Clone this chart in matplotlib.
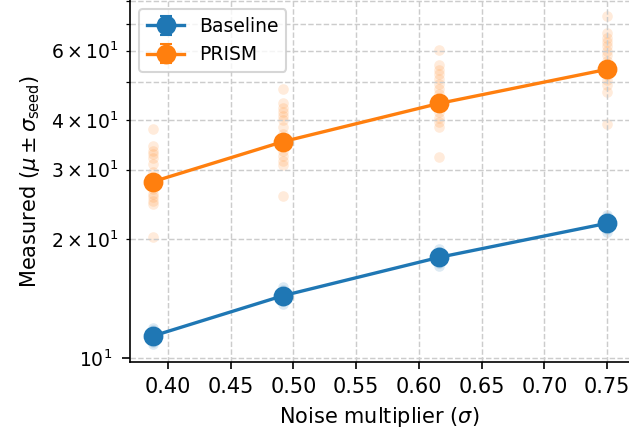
import numpy as np
import matplotlib
matplotlib.use("Agg")
import matplotlib.pyplot as plt
from matplotlib.ticker import MultipleLocator

## Noise multipliers and per-method results
sigmas = [0.388, 0.4917, 0.616, 0.75]

baseline_mean = [11.37, 14.38, 17.98, 21.93]
baseline_std = [0.2, 0.25, 0.3, 0.35]
prism_mean = [27.95, 35.3, 44.1, 53.8]
prism_std = [0.9, 1.0, 1.2, 1.3]

# individual seed runs
baseline_seeds = [
    [10.85, 11.0, 11.15, 11.25, 11.35, 11.4, 11.5, 11.6, 11.75, 11.9],
    [13.7, 13.95, 14.1, 14.25, 14.35, 14.45, 14.55, 14.7, 14.9, 15.1],
    [17.1, 17.4, 17.6, 17.8, 17.95, 18.05, 18.2, 18.4, 18.6, 18.9],
    [20.9, 21.2, 21.5, 21.7, 21.85, 22.0, 22.15, 22.4, 22.7, 23.0],
]
prism_seeds = [
    [38.0, 34.5, 33.5, 32.8, 32.0, 31.0, 29.5, 28.5, 27.5, 26.8, 26.0, 25.5, 25.0, 24.5, 20.3],
    [48.0, 44.2, 43.0, 42.0, 41.0, 40.0, 38.5, 37.0, 35.5, 34.5, 33.5, 32.5, 31.5, 30.8, 25.7],
    [60.2, 55.2, 53.5, 52.5, 51.0, 49.5, 48.0, 46.5, 45.0, 43.5, 42.0, 40.5, 39.5, 38.4, 32.3],
    [73.6, 66.5, 64.5, 63.0, 61.5, 60.0, 58.5, 56.5, 55.0, 53.5, 52.0, 50.5, 49.0, 47.1, 39.1],
]

blue = "#1f77b4"
orange = "#ff7f0e"

fig = plt.figure(figsize=(629 / 150, 436 / 150), dpi=150)
ax = fig.add_axes([130 / 629, 74 / 436, 499 / 629, 362 / 436])

# seed clouds first so the mean lines sit on top
for xi, vals in zip(sigmas, baseline_seeds):
    ax.scatter([xi] * len(vals), vals, s=26, color=blue, alpha=0.15, linewidths=0, zorder=1)
for xi, vals in zip(sigmas, prism_seeds):
    ax.scatter([xi] * len(vals), vals, s=26, color=orange, alpha=0.15, linewidths=0, zorder=1)

ax.errorbar(sigmas, baseline_mean, yerr=baseline_std, marker="o", markersize=8.5,
            lw=1.6, capsize=3, color=blue, label="Baseline", zorder=3)
ax.errorbar(sigmas, prism_mean, yerr=prism_std, marker="o", markersize=8.5,
            lw=1.6, capsize=3, color=orange, label="PRISM", zorder=3)

ax.set_yscale("log")
ax.set_ylim(9.77, 80.6)
ax.set_xlim(0.3697, 0.7675)
ax.xaxis.set_major_locator(MultipleLocator(0.05))
ax.set_xlabel(r"Noise multiplier ($\sigma$)", fontsize=10)
ax.set_ylabel(r"Measured ($\mu \pm \sigma_{\rm seed}$)", fontsize=10)
ax.tick_params(axis="x", which="both", labelsize=10)
ax.tick_params(axis="y", which="both", labelsize=9)
ax.tick_params(axis="y", which="major", length=4, pad=4.5)
ax.grid(True, which="both", linestyle="--", color="#cccccc", linewidth=0.7)
ax.spines["top"].set_visible(False)
ax.spines["right"].set_visible(False)
ax.legend(loc="upper left", fontsize=9)

fig.savefig("out.png", dpi=150)
